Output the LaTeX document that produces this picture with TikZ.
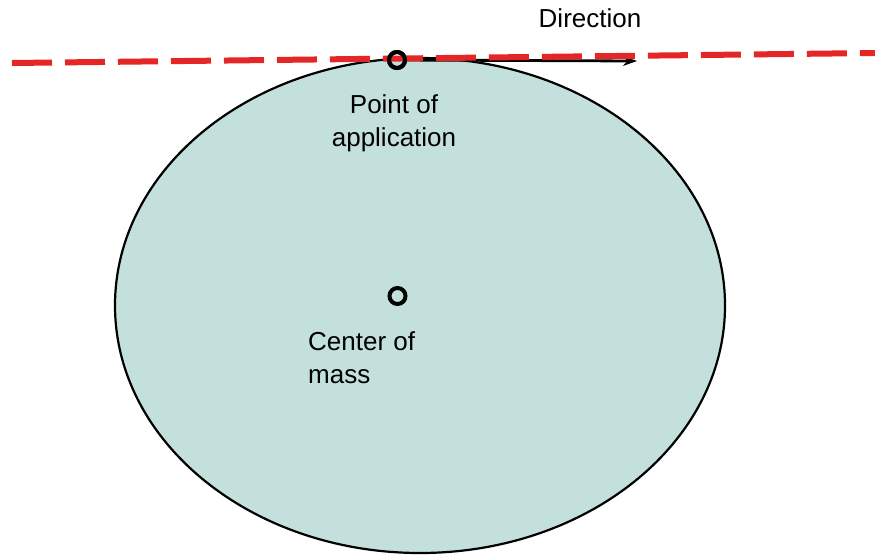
\documentclass[tikz,border=0pt]{standalone}
\usepackage{fontspec}
\setmainfont{Liberation Sans}
\definecolor{bodyfill}{RGB}{196,224,220}
\definecolor{dirred}{RGB}{228,38,38}
\usetikzlibrary{arrows.meta,positioning}

\begin{document}
\begin{tikzpicture}[x=1pt,y=-1pt,
  mark point/.style={draw,circle,line width=4pt,minimum size=16pt,inner sep=0pt},
  label text/.style={font=\fontsize{26}{33}\selectfont,inner sep=0pt}]
  \useasboundingbox (0,0) rectangle (875,557);
  % rigid body
  \draw[fill=bodyfill,line width=2.2pt] (420,305.5) ellipse [x radius=305, y radius=247.5];
  \coordinate (dl) at (12,63);
  \coordinate (dr) at (875,53);
  \coordinate (dirend) at (637,61);
  \node[mark point] (poa) at (397,60) {};
  \node[mark point] (com) at (397.5,296) {};
  % force direction
  \draw[-{Stealth[length=14pt,width=10pt]},line width=2.8pt] (poa) -- (dirend);
  \draw[dirred,line width=6pt,dash pattern=on 40pt off 13pt] (dl) -- (dr);
  \node[mark point] at (poa) {};
  \node[label text,anchor=base] (dirlbl) at (590,27) {Direction};
  \node[label text,align=center,anchor=north] (poalbl) at (394,94) {Point of\\application};
  \node[label text,align=left,anchor=north west] (comlbl) at (308,331) {Center of\\mass};
\end{tikzpicture}
\end{document}
